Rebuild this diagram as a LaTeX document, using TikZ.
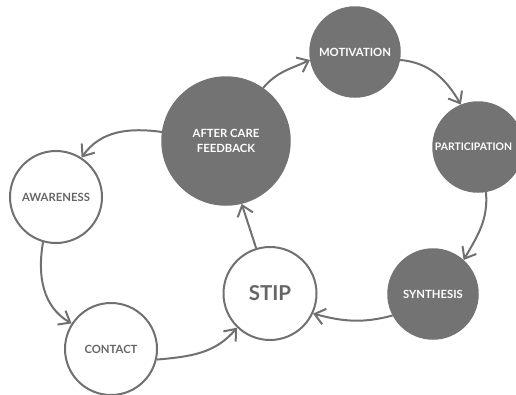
\documentclass[tikz,border=0pt]{standalone}
\usepackage{fontspec}
\setmainfont{Lato}
\usetikzlibrary{arrows.meta}
\definecolor{darkc}{HTML}{737373}
\definecolor{linec}{HTML}{707070}
\definecolor{txtc}{HTML}{666666}
\begin{document}
\begin{tikzpicture}[x=1pt,y=1pt,
  dk/.style={circle,fill=darkc,draw=darkc,line width=1.5pt,text=white,inner sep=0pt,
    font=\fontsize{11.3}{15.5}\selectfont\bfseries,align=center},
  wt/.style={circle,fill=white,draw=linec,line width=2pt,text=txtc,inner sep=0pt,
    font=\fontsize{11.3}{15.5}\selectfont\bfseries,align=center},
  conn/.style={draw=linec,line width=2pt,-{Straight Barb[length=10pt,width=16pt]}}]
\useasboundingbox (0,-394) rectangle (516,0);
\clip (0,-394) rectangle (516,0);
\node[dk,minimum size=128pt] (after) at (226,-141) {AFTER CARE\\FEEDBACK};
\node[dk,minimum size=90pt] (mot) at (355,-52) {MOTIVATION};
\node[dk,minimum size=90pt,font=\fontsize{10.4}{15}\selectfont\bfseries] (part) at (478,-147) {\hspace*{-9pt}PARTICIPATION};
\node[dk,minimum size=90pt] (syn) at (433,-294) {SYNTHESIS};
\node[wt,minimum size=93pt,font=\fontsize{20.5}{24}\selectfont\bfseries] (stip) at (270,-293.5) {STIP};
\node[wt,minimum size=92pt] (aware) at (56,-197) {AWARENESS};
\node[wt,minimum size=92pt] (contact) at (111,-349) {CONTACT};
\draw[conn] (after.172) to[out=172,in=55] (aware.57);
\draw[conn] (aware.254) to[out=-100,in=150] (contact.147);
\draw[conn] (contact.-13) to[out=5,in=-130] (stip.-134);
\draw[conn] (stip.107) -- (after.-76);
\draw[conn] (after.55) to[out=50,in=205] (mot.190);
\draw[conn] (mot.-10) to[out=-5,in=120] (part.112);
\draw[conn] (part.-80) to[out=-85,in=60] (syn.48);
\draw[conn] (syn.208) to[out=195,in=-15] (stip.-25);
\end{tikzpicture}
\end{document}
